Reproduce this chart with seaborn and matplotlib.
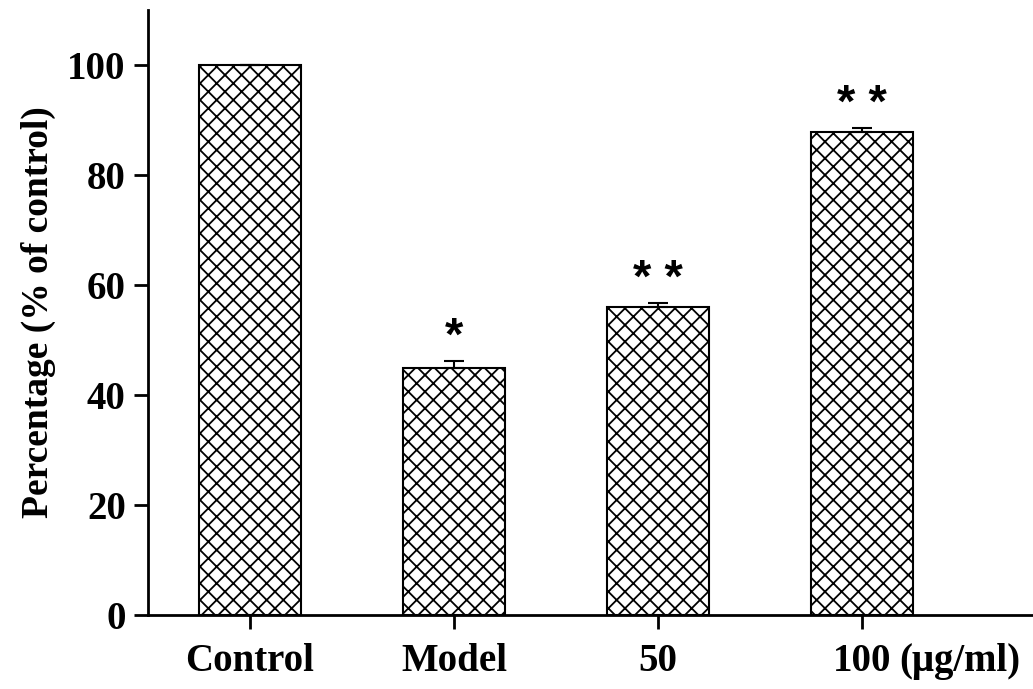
import matplotlib
matplotlib.use("Agg")
import matplotlib.pyplot as plt
import seaborn as sns

groups = ["Control", "Model", "50", "100"]
percent = [100, 45, 56, 87.8]
sem = [0, 1.2, 0.7, 0.7]
stars = ["", "*", "**", "**"]

sns.set_style("ticks")
plt.rcParams['font.family'] = ['Liberation Serif', 'DejaVu Serif']
plt.rcParams['font.weight'] = 'bold'
plt.rcParams['hatch.linewidth'] = 1.3
plt.rcParams['text.color'] = 'black'
plt.rcParams['axes.labelcolor'] = 'black'
plt.rcParams['xtick.color'] = 'black'
plt.rcParams['ytick.color'] = 'black'
plt.rcParams['axes.edgecolor'] = 'black'

fig = plt.figure(figsize=(10.33, 6.89), dpi=100)
ax = fig.add_axes([0.1433, 0.1074, 0.8567, 0.878])

sns.barplot(x=groups, y=percent, color="white", edgecolor="black",
            linewidth=1.5, width=0.5, hatch="xx", ax=ax)

ax.errorbar(range(len(groups)), percent, yerr=[[0] * len(sem), sem],
            fmt="none", ecolor="black", elinewidth=1.5, capsize=7, capthick=1.5)

# significance marks
for i, (v, e, s) in enumerate(zip(percent, sem, stars)):
    if s:
        ax.text(i, v + e + 0.2, " ".join(s), ha="center", va="bottom",
                fontsize=34, fontweight="bold", family=["Liberation Sans"])

ax.set_ylim(0, 110)
ax.set_xlim(-0.5, 3.84)
ax.set_yticks([0, 20, 40, 60, 80, 100])
ax.set_ylabel("Percentage (% of control)", fontsize=27, fontweight="bold", labelpad=8)
ax.set_xlabel("")
ax.tick_params(axis="both", direction="out", length=10, width=2, labelsize=28)
ax.tick_params(axis="x", pad=10)
ax.tick_params(axis="y", pad=6)
for lab in ax.get_xticklabels() + ax.get_yticklabels():
    lab.set_fontweight("bold")

fig.canvas.draw()
last = ax.get_xticklabels()[-1]
ax.annotate("(\u03bcg/ml)", xy=(1, 0), xycoords=last, xytext=(6, 0),
            textcoords="offset points", ha="left", va="bottom",
            fontsize=28, fontweight="bold")

ax.spines["left"].set_linewidth(2)
ax.spines["bottom"].set_linewidth(2)
sns.despine(ax=ax)

fig.savefig("out.png", dpi=100)
